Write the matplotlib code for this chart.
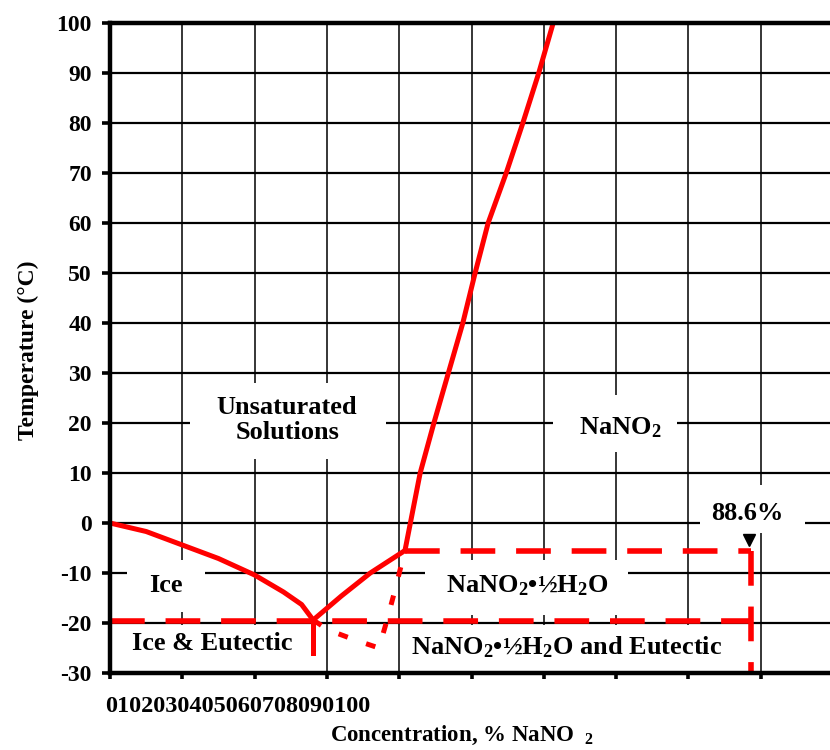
import matplotlib
matplotlib.use('Agg')
import matplotlib.pyplot as plt
from matplotlib.patches import Rectangle

# Phase diagram NaNO2 - water
plt.rcParams['font.family'] = 'Liberation Serif'
plt.rcParams['font.weight'] = 'bold'
plt.rcParams['mathtext.fontset'] = 'custom'
plt.rcParams['mathtext.rm'] = 'Liberation Serif:bold'
plt.rcParams['mathtext.it'] = 'Liberation Serif:bold'
plt.rcParams['mathtext.bf'] = 'Liberation Serif:bold'
plt.rcParams['lines.scale_dashes'] = False
plt.rcParams['axes.unicode_minus'] = False

# ice liquidus
ice_x = [0, 5, 10, 15, 20, 24, 26.5, 28.1]
ice_t = [0, -1.7, -4.4, -7.1, -10.4, -13.8, -16.3, -19.4]
# hemihydrate liquidus
hemi_x = [28.1, 32, 36, 40.8]
hemi_t = [-19.4, -14.6, -10, -5.5]
# NaNO2 solubility
salt_x = [40.8, 42.9, 44.8, 46.8, 48.8, 50.5, 52.3, 54.8, 57.1, 59.3, 61.3]
salt_t = [-5.5, 10, 20, 30, 40, 50, 60, 70, 80, 90, 100]
# metastable branch (dotted)
meta_x = [28.1, 30.2, 33.9, 37.2, 38.3, 39.4, 40.8]
meta_t = [-19.4, -21.4, -23.4, -25, -19.5, -13.5, -5.5]

eutectic_x = 28.1
eutectic_t = -19.5
hemi_peritectic_t = -5.5
hemi_limit_x = 88.6
x_ticks = list(range(0, 101, 10))
y_ticks = list(range(-30, 101, 10))

fig = plt.figure(figsize=(8.3, 7.5), dpi=100)
ax = fig.add_axes([110/830, 77/750, 723/830, 650/750])
ax.set_xlim(0, 100)
ax.set_ylim(-30, 100)

for y in y_ticks:
    ax.axhline(y, color='black', lw=1.6, zorder=0.5)
for x in x_ticks:
    ax.axvline(x, color='black', lw=1.1, zorder=0.5)

for side in ['left', 'top', 'bottom']:
    ax.spines[side].set_linewidth(3.2)
    ax.spines[side].set_zorder(6)
ax.spines['right'].set_visible(False)

ax.set_yticks(y_ticks)
ax.set_xticks(x_ticks)
ax.set_xticklabels([])
ax.tick_params(axis='y', direction='out', length=6, width=2.6, pad=7, labelsize=17)
ax.tick_params(axis='x', direction='out', length=4, width=2.6)
for lab in ax.get_yticklabels():
    lab.set_fontweight('bold')

fig.text(105/830, 1 - 706/750, ''.join(str(v) for v in x_ticks), fontsize=17.5,
         fontweight='bold', va='center', ha='left')
fig.text(28/830, 1 - 350/750, 'Temperature (°C)', rotation=90, fontsize=17,
         fontweight='bold', ha='center', va='center')
fig.text(330/830, 1 - 741/750, 'Concentration, % NaNO  $_2$', fontsize=16.5,
         fontweight='bold', ha='left', va='baseline')

# labels with white boxes: (text, x, y, box x0, x1, t0, t1)
labels = [
    ('Ice', 7.75, -12.6, 2.35, 13.1, -17.8, -7.4),
    ('Ice & Eutectic', 14.1, -24.2, 1.4, 27.0, -29.8, -20.4),
    ('Unsaturated\nSolutions', 24.5, 20.6, 11.1, 38.2, 12.8, 28.0),
    ('NaNO$_2$', 70.5, 19.0, 61.3, 78.4, 14.2, 25.6),
    ('NaNO$_2$•½H$_2$O', 57.7, -12.6, 43.6, 71.6, -18.4, -7.4),
    ('NaNO$_2$•½H$_2$O and Eutectic', 63.1, -24.8, 40.9, 88.8, -29.8, -20.4),
    ('88.6%', 88.2, 2.0, 81.6, 96.1, -2.0, 7.6),
]
for txt, tx, ty, x0, x1, t0, t1 in labels:
    ax.add_patch(Rectangle((x0, t0), x1 - x0, t1 - t0, facecolor='white',
                           edgecolor='none', zorder=2))
    ax.text(tx, ty, txt, fontsize=19, fontweight='bold', ha='center', va='center',
            linespacing=1.15, zorder=3)

red = '#ff0000'
ax.plot(ice_x, ice_t, color=red, lw=3.6, zorder=4, solid_joinstyle='round')
ax.plot(hemi_x, hemi_t, color=red, lw=3.6, zorder=4, solid_joinstyle='round')
ax.plot(salt_x, salt_t, color=red, lw=3.6, zorder=4, solid_joinstyle='round')
ax.plot([eutectic_x, eutectic_x], [eutectic_t, -26], color=red, lw=3.6, zorder=4)
ax.plot(meta_x, meta_t, color=red, lw=3.6, dashes=(7, 14), zorder=4)

ax.plot([0, hemi_limit_x], [eutectic_t, eutectic_t], color=red, lw=4, dashes=(25, 15), zorder=4)
ax.plot([hemi_x[-1], hemi_limit_x], [hemi_peritectic_t, hemi_peritectic_t], color=red, lw=4,
        dashes=(25, 15), zorder=4)
ax.plot([hemi_limit_x, hemi_limit_x], [hemi_peritectic_t, -30], color=red, lw=4,
        dashes=(25, 15), zorder=4)
ax.plot(hemi_limit_x - 0.2, -3.3, marker='v', color='black', ms=8, zorder=5)

fig.savefig('out.png', dpi=100)
